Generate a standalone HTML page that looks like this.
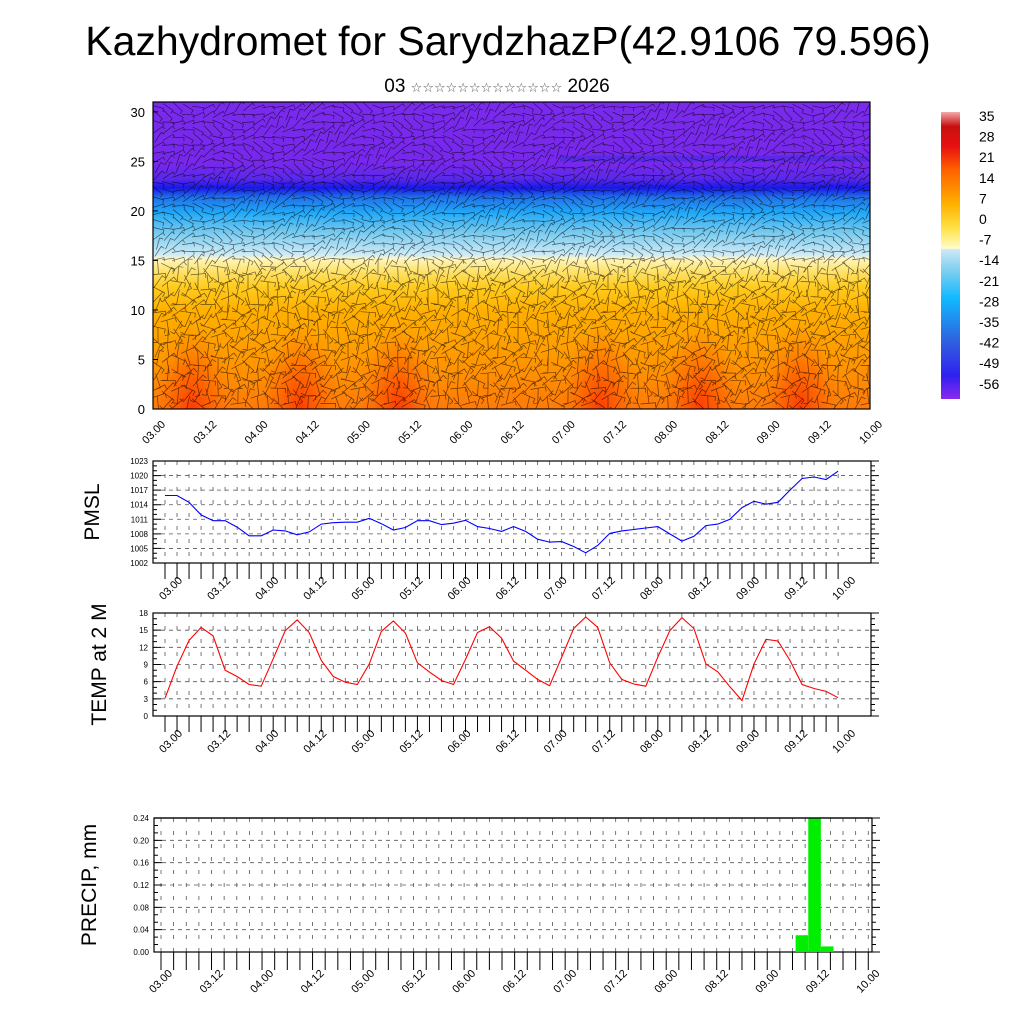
<!DOCTYPE html>
<html><head><meta charset="utf-8"><style>
body{margin:0;background:#fff;}
svg{display:block;font-family:"Liberation Sans",sans-serif;}
</style></head><body>
<svg id="c" width="1024" height="1024" viewBox="0 0 1024 1024">
<defs>
<clipPath id="topclip"><rect x="153" y="102" width="717" height="307"/></clipPath>
<linearGradient id="prof" x1="0" y1="1" x2="0" y2="0">
<stop offset="0" stop-color="#ff7a08"/><stop offset="0.16" stop-color="#ff9800"/>
<stop offset="0.32" stop-color="#ffb000"/><stop offset="0.40" stop-color="#ffcc20"/>
<stop offset="0.46" stop-color="#ffe880"/><stop offset="0.49" stop-color="#fff6c0"/>
<stop offset="0.50" stop-color="#d2ecf6"/><stop offset="0.58" stop-color="#70c8f0"/>
<stop offset="0.64" stop-color="#20a8f8"/><stop offset="0.69" stop-color="#2070e8"/>
<stop offset="0.72" stop-color="#1818e8"/><stop offset="0.75" stop-color="#5a28ea"/>
<stop offset="0.80" stop-color="#7828ec"/><stop offset="1" stop-color="#7a2aec"/>
</linearGradient>
<radialGradient id="warm"><stop offset="0" stop-color="#ff3800" stop-opacity="0.95"/><stop offset="0.5" stop-color="#ff5000" stop-opacity="0.5"/><stop offset="1" stop-color="#ff7000" stop-opacity="0"/></radialGradient>
<linearGradient id="cbar" x1="0" y1="1" x2="0" y2="0">
<stop offset="0" stop-color="#8a2aee"/><stop offset="0.08" stop-color="#3020f0"/>
<stop offset="0.2" stop-color="#3060e0"/><stop offset="0.35" stop-color="#10b8ff"/>
<stop offset="0.45" stop-color="#80d0f0"/><stop offset="0.52" stop-color="#cce8f6"/>
<stop offset="0.525" stop-color="#fffcc8"/><stop offset="0.6" stop-color="#ffe040"/>
<stop offset="0.68" stop-color="#ffb000"/><stop offset="0.8" stop-color="#ff6000"/>
<stop offset="0.88" stop-color="#e81010"/><stop offset="0.95" stop-color="#c81010"/>
<stop offset="1" stop-color="#f4a8a8"/>
</linearGradient>
</defs>
<text x="508" y="55" font-size="41" text-anchor="middle">Kazhydromet for SarydzhazP(42.9106 79.596)</text>
<text x="497" y="92" font-size="19" text-anchor="middle" font-family="Liberation Sans, DejaVu Sans, sans-serif">03 <tspan font-size="13" fill="#555">☆☆☆☆☆☆☆☆☆☆☆☆☆</tspan> 2026</text>
<g id="top"></g>
<g id="pmsl"></g>
<g id="temp"></g>
<g id="prec"></g>
<g id="cb"></g>
</svg>
<script>
const timeLabels=["03.00","03.12","04.00","04.12","05.00","05.12","06.00","06.12","07.00","07.12","08.00","08.12","09.00","09.12","10.00"];
const pmslValues=[1015.9,1015.9,1014.5,1011.9,1010.7,1010.7,1009.4,1007.6,1007.6,1008.8,1008.6,1007.8,1008.4,1010,1010.3,1010.4,1010.4,1011.2,1010.1,1008.8,1009.3,1010.7,1010.7,1009.9,1010.2,1010.8,1009.5,1009.1,1008.5,1009.5,1008.5,1006.9,1006.3,1006.4,1005.4,1004.1,1005.6,1008.1,1008.6,1008.9,1009.2,1009.5,1008,1006.5,1007.5,1009.7,1010,1011,1013.4,1014.7,1014.1,1014.5,1017,1019.4,1019.7,1019.2,1020.9];
const tempValues=[3.1,8.7,13.2,15.5,14,8,6.9,5.5,5.2,10,14.9,16.8,14.6,9.7,6.9,5.9,5.5,9.1,14.8,16.6,14.5,9.3,7.7,6.2,5.5,9.9,14.6,15.6,13.6,9.6,8,6.4,5.3,10.3,15.3,17.3,15.5,9.3,6.4,5.6,5.2,10.3,14.9,17.2,15.3,9.1,7.7,5.1,2.7,9.1,13.4,13.1,9.7,5.5,4.8,4.3,3.2];
const precipValues=[];for(let i=0;i<57;i++)precipValues.push(0);
precipValues[51]=0.03;precipValues[52]=0.25;precipValues[53]=0.01;
const pmslTicks=[1002,1005,1008,1011,1014,1017,1020,1023];
const tempTicks=[0,3,6,9,12,15,18];
const precipTicks=["0.00","0.04","0.08","0.12","0.16","0.20","0.24"];
const heightTicks=[0,5,10,15,20,25,30];
const cbLabels=[35,28,21,14,7,0,-7,-14,-21,-28,-35,-42,-49,-56];

const NS="http://www.w3.org/2000/svg";
function mk(p,tag,a,txt){const e=document.createElementNS(NS,tag);for(const k in a)e.setAttribute(k,a[k]);if(txt!==undefined)e.textContent=txt;p.appendChild(e);return e;}

/* ---- top cross-section ---- */
(function(){
const g=document.getElementById('top');
const X0=153,X1=870,Y0=102,Y1=409;
const yh=h=>Y1-h*(Y1-Y0)/31;
const cg=mk(g,'g',{"clip-path":"url(#topclip)"});
mk(cg,'rect',{x:X0,y:Y0,width:X1-X0,height:Y1-Y0,fill:'url(#prof)'});
[192,300,398,600,700,800].forEach((cx,i)=>{
 const e=mk(cg,'ellipse',{cx:cx,cy:Y1,rx:40,ry:85,fill:'url(#warm)'});
 
 
});
mk(cg,'rect',{x:560,y:yh(25.6),width:310,height:6,fill:'#3a2ae0',opacity:0.5});
let s='';
for(let r=0;r<40;r++){for(let c=0;c<72;c++){
 const x=X0+5+c*10,y=Y0+5+r*7.6; if(y>Y1-2)continue;
 const h=(Y1-y)/(Y1-Y0)*31;
 let a=Math.sin(c*0.7+r*1.3)*(h<15?1.6:0.6)+(h>15?-0.25:0.4)+Math.cos(c*0.31-r*0.5)*0.5;
 const L=h<15?15:12;
 const dx=Math.cos(a)*L,dy=Math.sin(a)*L;
 s+=`M${(x-dx/2).toFixed(1)} ${(y-dy/2).toFixed(1)}L${(x+dx/2).toFixed(1)} ${(y+dy/2).toFixed(1)}l${(-dy*0.3).toFixed(1)} ${(dx*0.3).toFixed(1)}`;
}}
mk(cg,'path',{d:s,stroke:'#000',"stroke-width":0.7,fill:'none',opacity:0.6});
mk(g,'rect',{x:X0,y:Y0,width:X1-X0,height:Y1-Y0,fill:'none',stroke:'#000',"stroke-width":1.2});
heightTicks.forEach(v=>{
 const t=mk(g,'text',{x:X0-8,y:yh(v)+5,"font-size":13,"text-anchor":"end"},v);
 
 
 mk(g,'line',{x1:X0,x2:X0+5,y1:yh(v),y2:yh(v),stroke:'#000'});
});
timeLabels.forEach((l,i)=>{
 const x=X0+i*(X1-X0)/14;
 const t=mk(g,'text',{x:x+13,y:Y1+16,"font-size":11,"text-anchor":"end",transform:`rotate(-45 ${x+13} ${Y1+16})`},l);
 
 
});
})();

/* ---- line panels ---- */
function panel(id,cfg){
const g=document.getElementById(id);
const {X0,X1,Y0,Y1,xs,dx,vmin,vmax,ticks,title,tx}=cfg;
const xv=i=>xs+i*dx, yv=v=>Y1-(v-vmin)*(Y1-Y0)/(vmax-vmin);
mk(g,'rect',{x:X0,y:Y0,width:X1-X0,height:Y1-Y0,fill:'#fff'});
let grid='';
ticks.forEach(t=>{const v=parseFloat(t);grid+=`M${X0} ${yv(v)}H${X1}`;});
mk(g,'path',{d:grid,stroke:'#555',"stroke-width":0.8,"stroke-dasharray":"4 4",fill:'none'});
let vg='';
for(let i=0;i<57;i++){vg+=`M${xv(i)} ${Y0}V${Y1}`;}
mk(g,'path',{d:vg,stroke:'#555',"stroke-width":0.8,"stroke-dasharray":"4 9",fill:'none'});
let tk='';
for(let i=0;i<57;i++)tk+=`M${xv(i)} ${Y1}V${Y1+(cfg.tl||16)}`;
const n=(ticks.length-1)*3;
for(let k=0;k<=n;k++){const v=vmin+k*(vmax-vmin)/n;const L=k%3?4:8;tk+=`M${X0} ${yv(v)}h${L}M${X1} ${yv(v)}h${L}`;}
mk(g,'path',{d:tk,stroke:'#000',"stroke-width":1,fill:'none'});
mk(g,'rect',{x:X0,y:Y0,width:X1-X0,height:Y1-Y0,fill:'none',stroke:'#000',"stroke-width":1.2});
ticks.forEach(t=>{
 const e=mk(g,'text',{x:X0-5,y:yv(parseFloat(t))+3,"font-size":8,"text-anchor":"end"},t);
 
 
});
const ox=cfg.lx||18;
timeLabels.forEach((l,i)=>{
 const x=xv(i*4)+ox,y=Y1+(cfg.ly||18);
 const e=mk(g,'text',{x:x,y:y,"font-size":11,"text-anchor":"end",transform:`rotate(-45 ${x} ${y})`},l);
 
 
});
const tt=mk(g,'text',{x:tx,y:(Y0+Y1)/2,"font-size":21,"text-anchor":"middle",transform:`rotate(-90 ${tx} ${(Y0+Y1)/2})`},title);


return {g,xv,yv};
}
(function(){
const p=panel('pmsl',{X0:153,X1:871,Y0:461,Y1:563,xs:165,dx:12.02,vmin:1002,vmax:1023,ticks:pmslTicks,title:'PMSL',tx:99});
const d=pmslValues.map((v,i)=>(i?'L':'M')+p.xv(i).toFixed(1)+' '+p.yv(v).toFixed(1)).join('');
const l=mk(p.g,'path',{d:d,stroke:'#0000ff',"stroke-width":1.1,fill:'none'});


})();
(function(){
const p=panel('temp',{X0:153,X1:871,Y0:613,Y1:716,xs:165,dx:12.02,vmin:0,vmax:18,ticks:tempTicks,title:'TEMP at 2 M',tx:106});
const d=tempValues.map((v,i)=>(i?'L':'M')+p.xv(i).toFixed(1)+' '+p.yv(v).toFixed(1)).join('');
const l=mk(p.g,'path',{d:d,stroke:'#ff0000',"stroke-width":1.1,fill:'none'});


})();
(function(){
const p=panel('prec',{X0:154,X1:872,Y0:818,Y1:952,xs:161,dx:12.63,vmin:0,vmax:0.24,ticks:precipTicks,title:'PRECIP, mm',tx:96,tl:18,ly:22,lx:12});
precipValues.forEach((v,i)=>{
 if(v<=0)return;
 const top=Math.max(p.yv(v),818);
 const b=mk(p.g,'rect',{x:p.xv(i)-9.5,y:top,width:12.6,height:952-top,fill:'#00ee00'});
 
 
});
mk(p.g,'line',{x1:154,x2:872,y1:818,y2:818,stroke:'#000',"stroke-width":1.2});
})();

/* ---- colorbar ---- */
(function(){
const g=document.getElementById('cb');
mk(g,'rect',{x:941,y:112,width:19,height:287,fill:'url(#cbar)'});
cbLabels.forEach((v,i)=>{
 const e=mk(g,'text',{x:979,y:121+i*20.6,"font-size":14},v);
 
 
});
})();
</script>
</body></html>
